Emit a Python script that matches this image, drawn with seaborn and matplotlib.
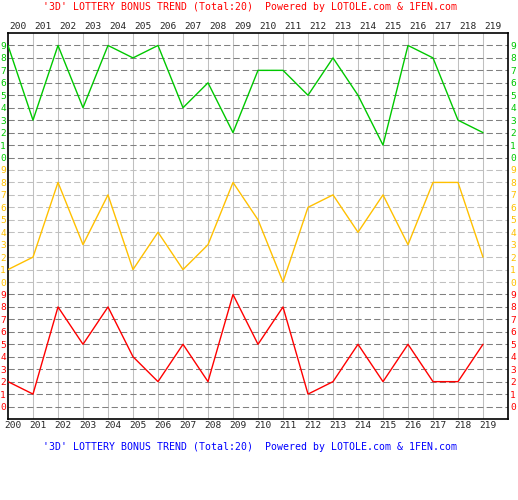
import matplotlib
matplotlib.use("Agg")
import matplotlib.pyplot as plt
import matplotlib.transforms as mtransforms
import pandas as pd
import seaborn as sns

# issue numbers and the three drawn digits per issue
issues = list(range(200, 220))
ball_1 = [9, 3, 9, 4, 9, 8, 9, 4, 6, 2, 7, 7, 5, 8, 5, 1, 9, 8, 3, 2]  # top band
ball_2 = [1, 2, 8, 3, 7, 1, 4, 1, 3, 8, 5, 0, 6, 7, 4, 7, 3, 8, 8, 2]  # middle band
ball_3 = [2, 1, 8, 5, 8, 4, 2, 5, 2, 9, 5, 8, 1, 2, 5, 2, 5, 2, 2, 5]  # bottom band

band_colors = {"ball_1": "#00C800", "ball_2": "#FFC000", "ball_3": "#FF0000"}
band_offset = {"ball_1": 20, "ball_2": 10, "ball_3": 0}

# long table: each band is stacked on its own 0-9 strip
rows = []
for name, values in [("ball_1", ball_1), ("ball_2", ball_2), ("ball_3", ball_3)]:
    for i, v in enumerate(values):
        rows.append({"pos": i, "level": v + band_offset[name], "ball": name})
df = pd.DataFrame(rows)

sns.set_style("white")
plt.rcParams["font.family"] = ["DejaVu Sans Mono", "DejaVu Sans"]

fig = plt.figure(figsize=(5.18, 5.0), dpi=100)
ax = fig.add_axes([8 / 518, 81 / 500, 500 / 518, 386 / 500])
ax.set_xlim(0, 20)
ax.set_ylim(-1, 30)

# grid: light vertical lines, dashed horizontal lines per band
for i in range(1, 20):
    ax.axvline(i, color="#C0C0C0", lw=0.75, zorder=1)
for u in range(30):
    col = "#C0C0C0" if 10 <= u <= 19 else "#808080"
    ax.axhline(u, color=col, lw=0.75, ls=(0, (6, 3)), zorder=1)

sns.lineplot(data=df, x="pos", y="level", hue="ball", palette=band_colors,
             legend=False, linewidth=1.0, ax=ax, zorder=3)

# issue labels on top and bottom
ax.set_xticks(range(20))
ax.set_xticklabels([str(n) for n in issues])
ax.tick_params(axis="x", length=0, labelsize=6.8, labeltop=True, pad=1.5)
shift = mtransforms.ScaledTranslation(5 / 100, 0, fig.dpi_scale_trans)
for lab in ax.get_xticklabels(which="both"):
    lab.set_transform(lab.get_transform() + shift)
for t in ax.xaxis.get_major_ticks():
    t.label2.set_transform(t.label2.get_transform() + shift)

# digit labels on both sides, coloured by band
ax.set_yticks(range(30))
ax.set_yticklabels([str(u % 10) for u in range(30)])
ax.tick_params(axis="y", length=0, labelsize=6.8, labelright=True, pad=1.5)
for u, t in enumerate(ax.yaxis.get_major_ticks()):
    c = band_colors["ball_1"] if u >= 20 else band_colors["ball_2"] if u >= 10 else band_colors["ball_3"]
    t.label1.set_color(c)
    t.label2.set_color(c)

ax.set_xlabel("")
ax.set_ylabel("")
for s in ax.spines.values():
    s.set_visible(True)
    s.set_color("black")
    s.set_linewidth(1.2)

title = "'3D' LOTTERY BONUS TREND (Total:20)  Powered by LOTOLE.com & 1FEN.com"
fig.text(250 / 518, 1 - 7 / 500, title, color="#FF0000", fontsize=7.1,
         ha="center", va="center")
fig.text(250 / 518, 1 - 447 / 500, title, color="#0000FF", fontsize=7.1,
         ha="center", va="center")

fig.savefig("out.png", dpi=100, facecolor="white")
